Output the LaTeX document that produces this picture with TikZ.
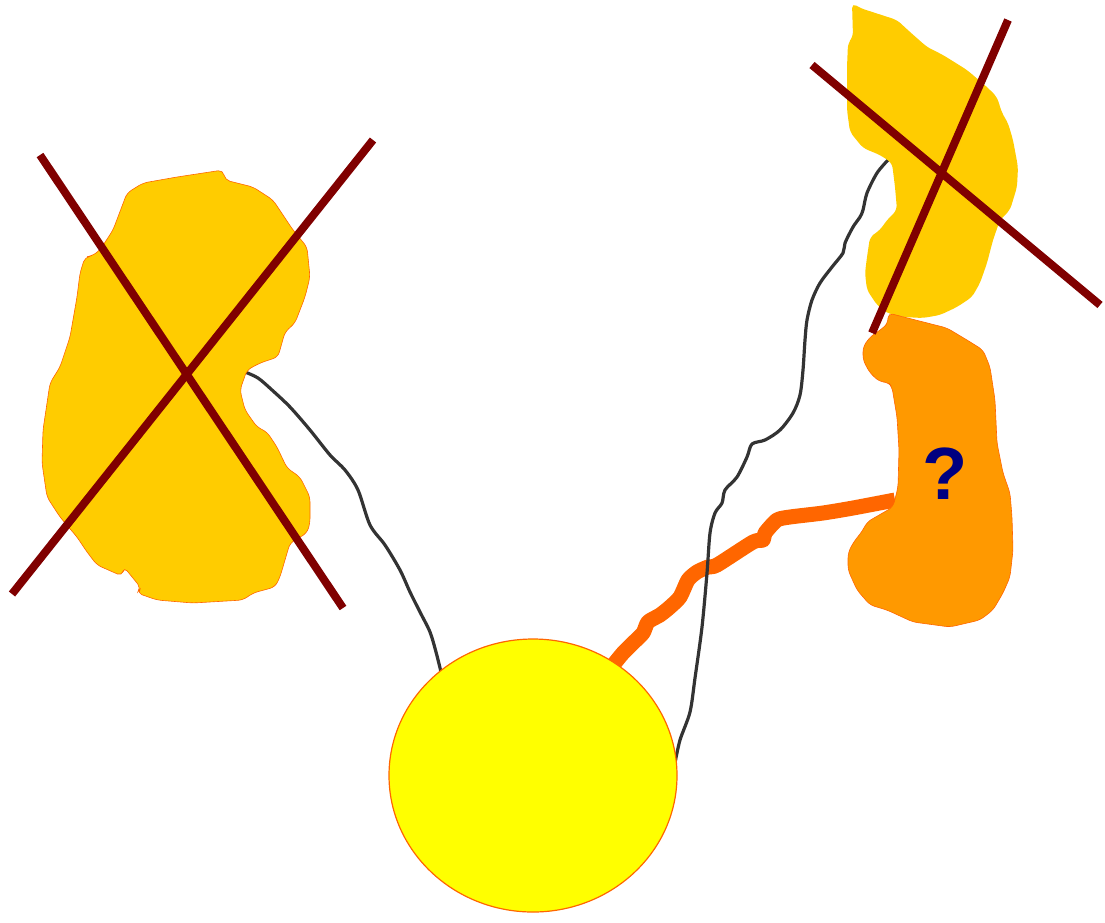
\documentclass[tikz,border=0pt]{standalone}
\usetikzlibrary{shapes.geometric}
\usepackage{fontspec}
\setmainfont{Liberation Sans}
\definecolor{blobY}{HTML}{FFCC00}
\definecolor{blobO}{HTML}{FF9900}
\definecolor{edgeO}{HTML}{FF6600}
\definecolor{sunY}{HTML}{FFFF00}
\definecolor{crossR}{HTML}{800000}
\definecolor{wireG}{HTML}{333333}
\definecolor{qnavy}{HTML}{000080}
\tikzset{
  yblob/.style={fill=blobY, draw=edgeO, line width=0.6pt, rounded corners=5pt},
  oblob/.style={fill=blobO, draw=edgeO, line width=0.6pt, rounded corners=5pt},
  crossline/.style={draw=crossR, line width=8pt},
  wire/.style={draw=wireG, line width=3.2pt, line join=round},
  thickwire/.style={draw=edgeO, line width=15pt, line join=round},
}
\begin{document}
\begin{tikzpicture}[x=1pt,y=-1pt]
\useasboundingbox (0,0) rectangle (1105,922);
% named end points
\coordinate (lw1) at (245,372);
\coordinate (lw2) at (441,672);
\coordinate (rw1) at (888,160);
\coordinate (rw2) at (675,763);
\coordinate (ow1) at (614,664);
\coordinate (ow2) at (895,500);
% connectors
\draw[thickwire] plot[smooth, tension=0.4] coordinates {(ow1) (623,653) (633,643) (643,633) (648,622) (660,615) (670,607) (680,597) (688,580) (697,572) (708,567) (717,565) (753,542) (763,540) (765,533) (777,520) (790,517) (823,513) (853,508) (ow2)};
\draw[wire] plot[smooth, tension=0.5] coordinates {(lw1) (258,378) (272,390) (290,407) (310,430) (330,455) (345,470) (358,490) (370,525) (385,545) (400,570) (410,592) (420,612) (430,632) (436,652) (lw2)};
\draw[wire] plot[smooth, tension=0.5] coordinates {(rw1) (877,173) (867,193) (863,210) (860,217) (853,227) (845,243) (843,253) (832,267) (820,283) (812,300) (807,320) (805,340) (803,370) (800,395) (793,413) (780,430) (765,440) (752,444) (747,457) (737,477) (725,490) (722,503) (715,513) (710,533) (707,573) (702,627) (695,678) (690,712) (680,740) (rw2)};
% left blob
\path[yblob] (223,170) -- (225,180) -- (253,187) -- (273,200) -- (293,230) -- (307,247) -- (310,277) -- (305,297) -- (295,323) -- (285,332) -- (278,357) -- (260,363) -- (247,370) -- (240,390) -- (245,410) -- (257,427) -- (267,432) -- (277,447) -- (287,468) -- (300,477) -- (310,497) -- (310,523) -- (307,533) -- (290,543) -- (285,560) -- (280,577) -- (275,587) -- (253,593) -- (243,600) -- (193,603) -- (157,600) -- (137,593) -- (141,588) -- (124,567) -- (122,576) -- (97,565) -- (87,552) -- (77,537) -- (60,517) -- (47,497) -- (42,463) -- (43,430) -- (50,383) -- (60,367) -- (70,337) -- (77,297) -- (80,273) -- (85,257) -- (92,256) -- (100,250) -- (113,230) -- (127,193) -- (143,183) -- (177,177) -- cycle;
% top right blob
\path[yblob, draw=none] (852,3) -- (860,8) -- (897,20) -- (910,32) -- (927,47) -- (943,55) -- (967,70) -- (987,87) -- (997,97) -- (1002,113) -- (1008,123) -- (1013,140) -- (1018,167) -- (1017,187) -- (1010,210) -- (1000,220) -- (993,240) -- (987,263) -- (980,283) -- (972,297) -- (957,307) -- (940,315) -- (923,318) -- (903,317) -- (887,313) -- (877,305) -- (867,290) -- (865,273) -- (867,257) -- (870,237) -- (880,230) -- (887,220) -- (897,210) -- (895,187) -- (892,163) -- (880,155) -- (863,148) -- (850,132) -- (847,110) -- (847,67) -- (848,43) -- (853,37) -- cycle;
% orange blob
\path[oblob] (888,313) -- (947,328) -- (967,340) -- (983,350) -- (990,367) -- (995,400) -- (997,443) -- (1003,473) -- (1010,493) -- (1012,517) -- (1013,550) -- (1010,577) -- (1003,593) -- (993,610) -- (980,620) -- (950,627) -- (913,622) -- (887,610) -- (870,605) -- (857,590) -- (848,570) -- (848,553) -- (853,543) -- (863,530) -- (867,522) -- (893,507) -- (898,487) -- (899,450) -- (897,417) -- (892,387) -- (888,382) -- (880,382) -- (870,373) -- (863,360) -- (863,347) -- (870,337) -- (883,328) -- (888,323) -- cycle;
\node[text=qnavy, font=\fontsize{74}{74}\selectfont\bfseries] (q) at (945,474) {?};
% sun
\node[ellipse, fill=sunY, draw=edgeO, line width=1.2pt, minimum width=288pt, minimum height=273pt, inner sep=0pt] (sun) at (533,775.5) {};
% crosses
\coordinate (ca1) at (40,155); \coordinate (ca2) at (343,608);
\coordinate (cb1) at (373,140); \coordinate (cb2) at (12,594);
\coordinate (cc1) at (812,65); \coordinate (cc2) at (1100,305);
\coordinate (cd1) at (1008,20); \coordinate (cd2) at (872,333);
\draw[crossline] (ca1) -- (ca2);
\draw[crossline] (cb1) -- (cb2);
\draw[crossline] (cc1) -- (cc2);
\draw[crossline] (cd1) -- (cd2);
\end{tikzpicture}
\end{document}
